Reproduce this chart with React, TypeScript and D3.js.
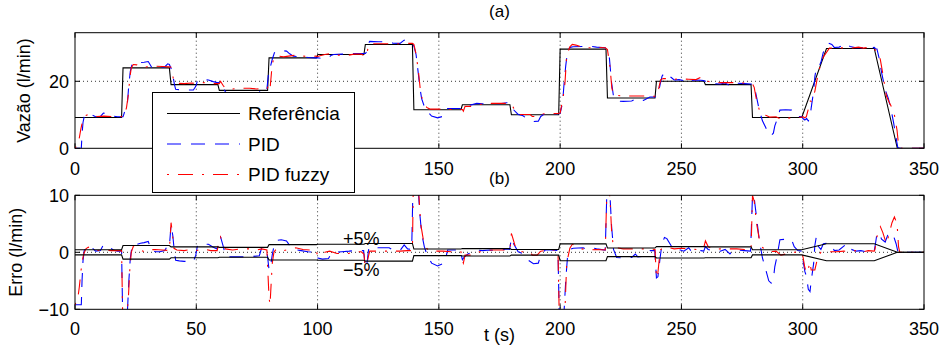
import * as d3 from "d3";

const xTicks = [0, 50, 100, 150, 200, 250, 300, 350];
const flowTicks = [0, 20];
const errTicks = [-10, 0, 10];

// setpoint (Referência), [t (s), l/min]
const reference: [number, number][] = [
  [0, 9.2], [19.2, 9.2], [19.8, 24], [38.9, 24], [39.6, 19], [58.9, 19], [59.5, 17.3],
  [79.4, 17.3], [80, 27], [99.5, 27], [100.1, 28], [119.1, 28], [119.7, 31], [139.1, 31],
  [139.7, 11.5], [159.1, 11.5], [159.7, 13], [179.3, 13], [179.9, 10], [199.4, 10],
  [200, 29.6], [218.9, 29.6], [219.5, 15], [239.1, 15], [239.7, 20], [259.3, 20],
  [259.9, 19], [278.7, 19], [279.3, 9.2], [299.6, 9.2], [309.8, 29.8], [329.5, 29.8],
  [339, 0], [350, 0],
];

// error of the PID loop, [t (s), l/min]
const pidErr: [number, number][] = [
  [0, -9.2], [2.6, -9.2], [2.9, -5], [3.3, -1.5], [3.8, 0.3], [4.5, 0.9], [5.5, 1.1], [7, 0.8],
  [8.5, 0.2], [10.5, 0.3], [11.7, 1.3], [13.5, 1.1], [15.8, 0.4], [17.5, 0.2], [19.2, 0.2],
  [19.8, -14.6], [21.6, -10.5], [22.2, -5], [22.8, -1], [23.5, 1.0], [24.3, 1.5], [25.5, 1.4],
  [27, 1.6], [28.5, 1.7], [30.2, 1.9], [31.6, 0.2], [33.5, 0.1], [35, 0.1], [37, 0.3],
  [38.2, 1.2], [38.9, 1.0],
  [39.6, 4.8], [40.3, 3], [41, 0], [41.5, -1.4], [43, -1.5], [45, -1.6], [48.8, -1.6],
  [49.8, -0.5], [50.5, 1.2], [52, 1.5], [55, 1.4], [57, 0.9], [58.6, 0.6],
  [59.5, 2.4], [60, 2.7], [61, 1.2], [62, -0.5], [62.5, -0.8], [66.6, -0.8], [70, -0.8],
  [72, -0.8], [76, -0.6], [76.9, 0.7], [78, 0.8], [79.1, 0.3],
  [80, -3.1], [80.6, -2.5], [81.3, -0.5], [82.2, 1.5], [83.1, 2.1], [85, 2.2], [87.2, 2.0],
  [88.5, 1.2], [90, 0.5], [93.2, 0.3], [96, 0.1], [99.2, 0],
  [100.1, -1.0], [102, -1.2], [104.5, -1.1], [105.5, -0.3], [106.6, 0], [110, 0.1], [113, 0.2],
  [115, 0.3], [119, 0.3],
  [119.7, -2.7], [120.3, -2.2], [121, 0.4], [121.5, 0.9], [125, 0.8], [129.5, 0.8], [131, 0.4],
  [134, 0.3], [135.7, 1.3], [137.1, 0.6], [138.8, 0.5],
  [139.7, 19], [140.6, 16.5], [141.5, 11], [142.2, 6.5], [142.9, 3.3], [144, 1.0], [145, -0.3],
  [147, -1.9], [149.5, -2.4], [151.5, -2.0], [152.5, -1.7], [153.6, 0.4], [156, 0.4], [158.7, 0.4],
  [159.7, -1.3], [160.5, -0.8], [162, -0.3], [165.6, 0.4], [168, 0.3], [171, 0.4], [175, 0.3],
  [178, 0.6], [179.2, 0.5],
  [179.9, 2.5], [180.8, 1.5], [182.7, 0.1], [184.5, -0.2], [186.9, -1.4], [189, -2.0], [191, -1.9],
  [192, -0.5], [193.8, 0.4], [195.8, 0.4], [199.1, 0.3],
  [200, -19.2], [201, -16], [201.6, -10.5], [202.3, -5], [203, -1], [203.4, 0.1], [204.5, 0.6],
  [205.4, 0.7], [209.5, 0.8], [211, 0.5], [213, 0.8], [215, 0.6], [218.6, 0.4],
  [219.5, 14.3], [220.3, 12], [221.2, 4.6], [222, 0.5], [223.3, -0.9], [226, -1.0], [229.5, -0.9],
  [231, -0.3], [232, -0.8], [234.3, -0.7], [237, 0.3], [239, 0.3],
  [239.7, -4.5], [240.3, -4.3], [241.2, -1], [242, 1.5], [243, 2.6], [244, 2.4], [245.7, 1.2],
  [247, 0.4], [249, 0.5], [251, 0.2], [253, 0.8], [254, 0.2], [256, 0.4], [258, 0.3], [259.2, 0.2],
  [259.9, 1.0], [261, 0.5], [263, 0.3], [266, 0.2], [268, 0.5], [270, -0.3], [271, 0.3],
  [273, 0.4], [276, 0.3], [278.5, 0.2],
  [279.3, 10], [280, 9.5], [281, 6], [282, 2.5], [282.5, 1.2], [283.4, -1], [284.8, -3.1],
  [286, -5], [287, -5.4], [287.9, -4.7], [288.5, -2.5], [289.5, -0.5], [290.6, 2.2], [293, 2.3],
  [295.4, 2.2], [296.5, 1.0], [298, 0.3], [299.6, 0.2],
  [300.2, -1.6], [300.9, -3.4], [301.6, -4.3], [302.3, -6.5], [303, -6.9], [303.5, -5],
  [304.5, -2], [305, 1.2], [305.6, 2.7], [306.5, 1.0], [307.5, 0.5], [308.5, 1.5], [310.6, 1.6],
  [312, 1.2], [313, 0.3], [315, 0.4], [318.1, 1.5], [319.5, 0.6], [322, 0.2], [324, 0.3],
  [326, 0.1], [328, 0.2], [329.5, 0.3],
  [330, 1.5], [330.6, 3.3], [331.5, 3.4], [332.5, 2.3], [334, 1.8], [335.3, 3.3], [336.5, 3.4],
  [337.5, 2.8], [338.5, 1.5], [339.2, 0.2], [340, 0], [350, 0],
];

// error of the fuzzy PID loop, [t (s), l/min]
const fuzzyErr: [number, number][] = [
  [0, -9.2], [1.2, -8], [1.8, -6], [2.4, -3.5], [3.0, -1.5], [3.6, -0.3], [4.5, 0.6], [5.5, 0.9],
  [7, 0.6], [9, 0.3], [12, 0.4], [15, 0.3], [19.2, 0.3],
  [19.8, -14.7], [21.2, -12], [22, -8], [22.6, -3], [23.2, 0], [24, 1], [25.5, 0.9], [27, 0.4],
  [28.6, 0.1], [30, 0.4], [33, 0.5], [36, 0.4], [38.9, 0.3],
  [39.6, 5.2], [40.1, 3.5], [40.8, 0.7], [42, 0.4], [45, 0.3], [48, 0.5], [50, 0.3], [53, 0.6],
  [56, 0.3], [58.6, 0.3],
  [59.5, 2], [60, 2.7], [61, 1.5], [62, 0.6], [65, 0.4], [68, 0.6], [72, 0.6], [75, 0.4],
  [77, 0.6], [79.1, 0.4],
  [80, -8], [80.4, -9.2], [80.8, -6], [81.3, -2], [82, 0], [83, 0.6], [86, 0.3], [88, 0.5],
  [91, 0.8], [94, 0.5], [97, 0.4], [99.2, 0.5],
  [100.1, -0.6], [101, -0.4], [103, 0], [105, 0.2], [108, -0.2], [112.8, -0.2], [115, 0.1],
  [118, 0.1], [119.1, -0.3],
  [119.7, -2.9], [120.2, -3.3], [120.8, -1], [121.5, 0.2], [125, 0.2], [130, 0.2], [134, 0.2],
  [137, 0.3], [139.1, 0.3],
  [139.7, 19.5], [140.5, 17], [141.5, 12], [142.5, 5], [143.6, 2.2], [145, 0.7], [146.3, 0.2],
  [151.8, 0.2], [155, 0.1], [159.1, 0.1],
  [159.7, -1.4], [160.1, -1.9], [160.8, -0.5], [164.2, -0.5], [166, 0], [168, 0.2], [171.7, 0.4],
  [177.9, 0.4], [179.3, 0.4],
  [179.9, 3.3], [180.5, 2.5], [181.5, 1], [183.4, 0.1], [187.6, 0.1], [188.5, -0.5], [190.5, -0.5],
  [192, 0.2], [195, 0.4], [199.1, 0.4],
  [200, -19.1], [201.3, -14], [202, -10], [202.7, -1.9], [204, 0.7], [205, 1.4], [206.5, 1.2],
  [209, 0.6], [212, 0.4], [215, 0.5], [218.6, 0.4],
  [219.5, 14.5], [220.6, 9], [221.3, 3], [222, 1.0], [223.3, 0.8], [226, 0.6], [230, 0.6],
  [234, 0.6], [237, 0.6], [239.1, 0.5],
  [239.7, -4.5], [240.2, -4], [240.8, -1.5], [241.5, 0.5], [242.5, 0.8], [245, 0.8], [247, 0.6],
  [250, 0.7], [253, 0.6], [256, 0.5], [258, 1.2], [259.3, 1.0],
  [259.9, 2.0], [261, 1.0], [263, 0.5], [266, 0.6], [268, 0.6], [272.8, 0.6], [276, 0.5],
  [278.7, 0.4],
  [279.3, 10], [280, 9], [281, 5], [282.3, 1.8], [283.5, 0.8], [285, 0.6], [286.5, 0.1],
  [289, 0.2], [291, -0.5], [293, -0.3], [296, 0], [299.6, 0.1],
  [300.2, -1], [300.8, -2.5], [301.5, -3.6], [302.3, -3.0], [302.9, -1.7], [303.5, -3.1],
  [305, -3.1], [305.8, -1.6], [306.5, -0.5], [307.5, 0], [308.5, 0.1], [311, 0.1], [314, 0.1],
  [317, 0.2], [320, 0.1], [323, 0.4], [325, 0.1], [327, 0.3], [329.5, 0.2],
  [329.8, 0.5], [330.3, 2], [331, 3.5], [332, 4.5], [333, 3.5], [334.5, 1.5], [335.5, 3],
  [336.8, 5.2], [337.8, 6.2], [338.9, 5.0], [339.5, 1], [340, 0], [350, 0],
];

const W = 942;
const H = 354;
const left = 75;
const right = 924;
const topA = 32.7;
const botA = 148.3;
const topB = 195.3;
const botB = 309.3;
const font = "'Liberation Sans', Arial, Helvetica, sans-serif";
const blueDash = "14,10";
const redDash = "2,9,15,9";

// legend box (covers part of the (a) x labels, as in the original)
const legX = 152.5;
const legY = 92.5;
const legW = 202;
const legH = 100;

const x = d3.scaleLinear().domain([0, 350]).range([left, right]);
const yA = d3.scaleLinear().domain([0, 34.5]).range([botA, topA]);
const yB = d3.scaleLinear().domain([-10, 10]).range([botB, topB]);

const refAt = d3
  .scaleLinear()
  .domain(reference.map((d) => d[0]))
  .range(reference.map((d) => d[1]))
  .clamp(true);

const pidFlow = pidErr.map(([t, e]) => [t, Math.max(0, refAt(t) + e)] as [number, number]);
const fuzzyFlow = fuzzyErr.map(([t, e]) => [t, Math.max(0, refAt(t) + e)] as [number, number]);
const bandUp = reference.map(([t, v]) => [t, 0.05 * v] as [number, number]);
const bandDown = reference.map(([t, v]) => [t, -0.05 * v] as [number, number]);

function Axes({ y, top, bottom, yTicks, hGrid, clip }: any) {
  return (
    <g>
      {xTicks.slice(1, -1).map((t) => (
        <line key={"gx" + t} x1={x(t)} x2={x(t)} y1={top} y2={bottom} stroke="#000" strokeWidth={0.8} strokeDasharray="1,3" />
      ))}
      {hGrid.map((v: number) => (
        <line key={"gy" + v} x1={left} x2={right} y1={y(v)} y2={y(v)} stroke="#000" strokeWidth={0.8} strokeDasharray="1,3" />
      ))}
      {xTicks.map((t) => (
        <g key={"tx" + t}>
          <line x1={x(t)} x2={x(t)} y1={bottom} y2={bottom - 5} stroke="#000" />
          <line x1={x(t)} x2={x(t)} y1={top} y2={top + 5} stroke="#000" />
        </g>
      ))}
      {yTicks.map((v: number) => (
        <g key={"ty" + v}>
          <line x1={left} x2={left + 5} y1={y(v)} y2={y(v)} stroke="#000" />
          <line x1={right} x2={right - 5} y1={y(v)} y2={y(v)} stroke="#000" />
          <text x={left - 6} y={y(v)} dy="0.36em" textAnchor="end" fontSize={18}>
            {v < 0 ? "\u2212" + Math.abs(v) : v}
          </text>
        </g>
      ))}
      <clipPath id={clip}>
        <rect x={left} y={top} width={right - left} height={bottom - top} />
      </clipPath>
    </g>
  );
}

export default function App() {
  const lineA = d3
    .line<[number, number]>()
    .x((d) => x(d[0]))
    .y((d) => yA(d[1]));
  const lineB = d3
    .line<[number, number]>()
    .x((d) => x(d[0]))
    .y((d) => yB(d[1]));

  // labels of (a) that the legend hides
  const visibleA = xTicks.filter((t) => x(t) < legX - 10 || x(t) > legX + legW + 10);

  return (
    <svg width={W} height={H} style={{ position: "absolute", left: 0, top: 0, background: "#fff" }} fontFamily={font}>
      <rect width={W} height={H} fill="#fff" />

      {/* (a) flow */}
      <Axes y={yA} top={topA} bottom={botA} yTicks={flowTicks} hGrid={[20]} clip="clipA" />
      <g clipPath="url(#clipA)" fill="none">
        <path d={lineA(reference) ?? ""} stroke="#000" strokeWidth={1.1} />
        <path d={lineA(pidFlow) ?? ""} stroke="#0000ff" strokeWidth={1.1} strokeDasharray={blueDash} />
        <path d={lineA(fuzzyFlow) ?? ""} stroke="#ff0000" strokeWidth={1.1} strokeDasharray={redDash} />
      </g>
      <rect x={left} y={topA} width={right - left} height={botA - topA} fill="none" stroke="#000" />
      {visibleA.map((t) => (
        <text key={"la" + t} x={x(t)} y={175} textAnchor="middle" fontSize={18}>{t}</text>
      ))}
      <text x={(left + right) / 2} y={17} textAnchor="middle" fontSize={17}>(a)</text>
      <text transform={`translate(30,${(topA + botA) / 2}) rotate(-90)`} textAnchor="middle" fontSize={18}>Vazão (l/min)</text>

      {/* (b) error */}
      <Axes y={yB} top={topB} bottom={botB} yTicks={errTicks} hGrid={[0]} clip="clipB" />
      <g clipPath="url(#clipB)" fill="none">
        <path d={lineB(pidErr) ?? ""} stroke="#0000ff" strokeWidth={1.1} strokeDasharray={blueDash} />
        <path d={lineB(fuzzyErr) ?? ""} stroke="#ff0000" strokeWidth={1.1} strokeDasharray={redDash} />
        <path d={lineB(bandUp) ?? ""} stroke="#000" strokeWidth={1.1} />
        <path d={lineB(bandDown) ?? ""} stroke="#000" strokeWidth={1.1} />
      </g>
      <rect x={left} y={topB} width={right - left} height={botB - topB} fill="none" stroke="#000" />
      {xTicks.map((t) => (
        <text key={"lb" + t} x={x(t)} y={335} textAnchor="middle" fontSize={18}>{t}</text>
      ))}
      <text x={(left + right) / 2} y={184} textAnchor="middle" fontSize={17}>(b)</text>
      <text x={(left + right) / 2} y={341} textAnchor="middle" fontSize={18}>t (s)</text>
      <text transform={`translate(22,${(topB + botB) / 2}) rotate(-90)`} textAnchor="middle" fontSize={18}>Erro (l/min)</text>
      <text x={x(118)} y={245} textAnchor="middle" fontSize={18}>+5%</text>
      <text x={x(118)} y={276} textAnchor="middle" fontSize={18}>{"\u22125%"}</text>

      {/* legend */}
      <g>
        <rect x={legX} y={legY} width={legW} height={legH} fill="#fff" stroke="#000" />
        {[
          { label: "Referência", color: "#000", dash: "none" },
          { label: "PID", color: "#0000ff", dash: blueDash },
          { label: "PID fuzzy", color: "#ff0000", dash: redDash },
        ].map((d, i) => {
          const yy = 113.5 + i * 30.5;
          return (
            <g key={d.label}>
              <line x1={167} x2={240} y1={yy} y2={yy} stroke={d.color} strokeWidth={1.1} strokeDasharray={d.dash} />
              <text x={248} y={yy} dy="0.36em" fontSize={19}>{d.label}</text>
            </g>
          );
        })}
      </g>
    </svg>
  );
}
